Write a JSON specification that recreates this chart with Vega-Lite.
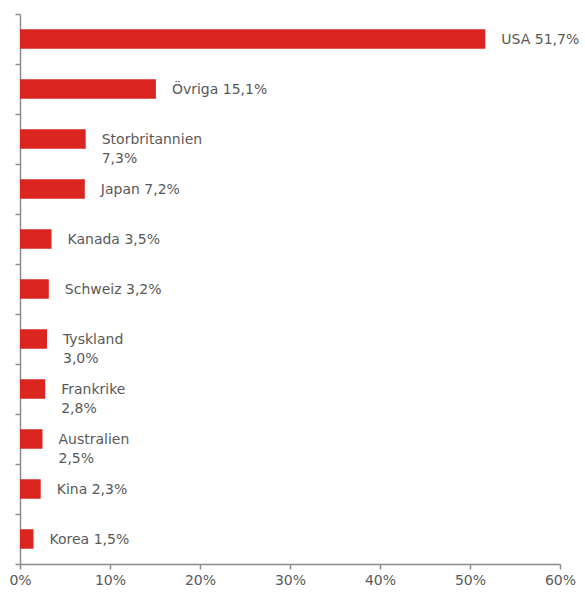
{
  "$schema": "https://vega.github.io/schema/vega-lite/v6.json",
  "width": 540,
  "height": 550,
  "autosize": {"type": "none"},
  "padding": {"left": 20, "top": 14, "right": 25, "bottom": 28},
  "background": "white",
  "config": {"view": {"stroke": null}, "font": "DejaVu Sans"},
  "data": {
    "values": [
      {"land": "USA", "andel": 51.7, "etikett": "USA 51,7%"},
      {"land": "Övriga", "andel": 15.1, "etikett": "Övriga 15,1%"},
      {"land": "Storbritannien", "andel": 7.3, "etikett": "Storbritannien\n7,3%"},
      {"land": "Japan", "andel": 7.2, "etikett": "Japan 7,2%"},
      {"land": "Kanada", "andel": 3.5, "etikett": "Kanada 3,5%"},
      {"land": "Schweiz", "andel": 3.2, "etikett": "Schweiz 3,2%"},
      {"land": "Tyskland", "andel": 3.0, "etikett": "Tyskland\n3,0%"},
      {"land": "Frankrike", "andel": 2.8, "etikett": "Frankrike\n2,8%"},
      {"land": "Australien", "andel": 2.5, "etikett": "Australien\n2,5%"},
      {"land": "Kina", "andel": 2.3, "etikett": "Kina 2,3%"},
      {"land": "Korea", "andel": 1.5, "etikett": "Korea 1,5%"}
    ]
  },
  "encoding": {
    "y": {
      "field": "land",
      "type": "nominal",
      "sort": null,
      "scale": {"paddingInner": 0, "paddingOuter": 0},
      "axis": {
        "title": null,
        "labels": false,
        "bandPosition": 1,
        "tickExtra": true,
        "tickSize": 5,
        "tickColor": "#8c8c8c",
        "tickWidth": 1.5,
        "domainColor": "#8c8c8c",
        "domainWidth": 1.5,
        "grid": false
      }
    },
    "x": {
      "field": "andel",
      "type": "quantitative",
      "scale": {"domain": [0, 60], "nice": false},
      "axis": {
        "title": null,
        "values": [0, 10, 20, 30, 40, 50, 60],
        "labelExpr": "datum.value + '%'",
        "grid": false,
        "tickSize": 5,
        "tickColor": "#8c8c8c",
        "tickWidth": 1.5,
        "domainColor": "#8c8c8c",
        "domainWidth": 1.5,
        "labelColor": "#595959",
        "labelFont": "DejaVu Sans",
        "labelFontSize": 14,
        "labelPadding": 4,
        "labelFlush": false
      }
    }
  },
  "layer": [
    {
      "mark": {"type": "bar", "color": "#da2520", "height": {"band": 0.39}}
    },
    {
      "mark": {
        "type": "text",
        "align": "left",
        "baseline": "middle",
        "dx": 16,
        "dy": 1,
        "font": "DejaVu Sans",
        "fontSize": 14,
        "color": "#595959",
        "lineBreak": "\n",
        "lineHeight": 19
      },
      "encoding": {"text": {"field": "etikett"}}
    }
  ]
}
